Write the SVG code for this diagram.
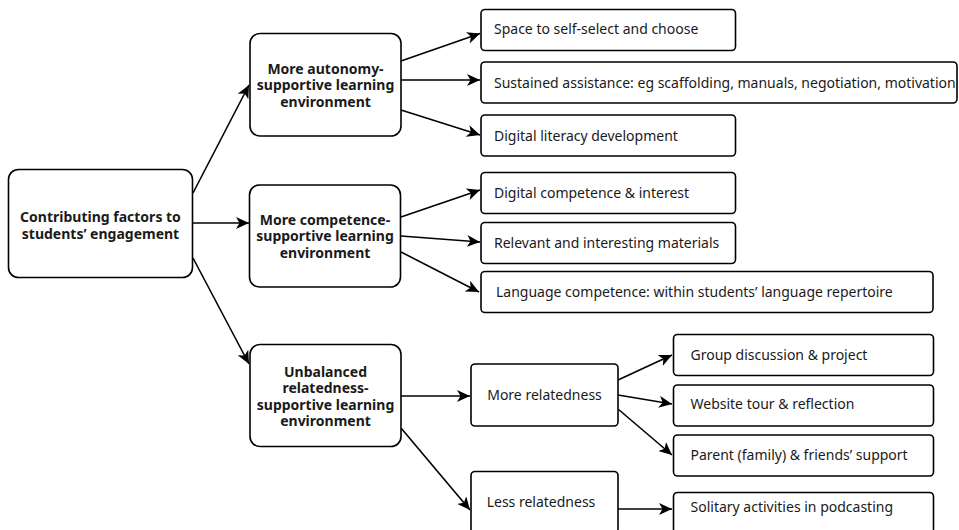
<svg xmlns="http://www.w3.org/2000/svg" width="959" height="530" viewBox="0 0 959 530">
<style>
.box{fill:#fff;stroke:#000;stroke-width:1.6}
.t{font-family:"Noto Sans","Open Sans","DejaVu Sans",sans-serif;font-size:14px;fill:#1a1a1a}
.b{font-weight:bold;text-anchor:middle}
.c{text-anchor:middle}
.ln{stroke:#000;stroke-width:1.6;fill:none;marker-end:url(#ah)}
</style>
<defs>
<marker id="ah" markerUnits="userSpaceOnUse" markerWidth="14" markerHeight="12" viewBox="0 0 14 12" refX="13" refY="6" orient="auto">
<path d="M0,0 L13,6 L0,12 L3.5,6 z" fill="#000"/>
</marker>
</defs>
<g id="connectors">
<line class="ln" x1="193" y1="193" x2="249" y2="85"/>
<line class="ln" x1="193" y1="223" x2="249" y2="223"/>
<line class="ln" x1="193" y1="258" x2="249" y2="364"/>
<line class="ln" x1="401" y1="61" x2="480" y2="33.5"/>
<line class="ln" x1="401" y1="80" x2="480" y2="80"/>
<line class="ln" x1="401" y1="110" x2="480" y2="135"/>
<line class="ln" x1="401" y1="217" x2="480" y2="190"/>
<line class="ln" x1="401" y1="236" x2="480" y2="242"/>
<line class="ln" x1="401" y1="252" x2="479" y2="292"/>
<line class="ln" x1="401" y1="396" x2="470" y2="396"/>
<line class="ln" x1="401" y1="428" x2="470" y2="510"/>
<line class="ln" x1="618" y1="380" x2="672" y2="355"/>
<line class="ln" x1="618" y1="395" x2="672" y2="404"/>
<line class="ln" x1="618" y1="409" x2="672" y2="455"/>
<line class="ln" x1="618" y1="509" x2="672" y2="509"/>
</g>
<g id="root">
<rect class="box" x="8.5" y="169.5" width="184" height="108" rx="10"/>
<text class="t b" x="100.5" y="222"><tspan x="100.5" y="222">Contributing factors to</tspan><tspan x="100.5" y="239">students’ engagement</tspan></text>
</g>
<g id="autonomy">
<rect class="box" x="250" y="33.5" width="151" height="102.5" rx="10"/>
<text class="t b" x="325.5" y="73.5"><tspan x="325.5" y="73.5">More autonomy-</tspan><tspan x="325.5" y="90">supportive learning</tspan><tspan x="325.5" y="106.5">environment</tspan></text>
</g>
<g id="competence">
<rect class="box" x="249.5" y="185" width="151" height="102" rx="10"/>
<text class="t b" x="325" y="224.5"><tspan x="325" y="224.5">More competence-</tspan><tspan x="325" y="241">supportive learning</tspan><tspan x="325" y="257.5">environment</tspan></text>
</g>
<g id="unbalanced">
<rect class="box" x="250" y="344.5" width="151" height="102" rx="10"/>
<text class="t b" x="325.5" y="376.5"><tspan x="325.5" y="376.5">Unbalanced</tspan><tspan x="325.5" y="393">relatedness-</tspan><tspan x="325.5" y="409.5">supportive learning</tspan><tspan x="325.5" y="426">environment</tspan></text>
</g>
<g id="space">
<rect class="box" x="481" y="9.5" width="254.5" height="41" rx="4"/>
<text class="t" x="494" y="34">Space to self-select and choose</text>
</g>
<g id="sustained">
<rect class="box" x="481" y="62" width="476" height="41" rx="4"/>
<text class="t" x="494" y="87.5">Sustained assistance: eg scaffolding, manuals, negotiation, motivation</text>
</g>
<g id="literacy">
<rect class="box" x="481" y="115" width="254.5" height="41" rx="4"/>
<text class="t" x="494" y="141">Digital literacy development</text>
</g>
<g id="digital-competence">
<rect class="box" x="481" y="172.5" width="254.5" height="41" rx="4"/>
<text class="t" x="494" y="198">Digital competence &amp; interest</text>
</g>
<g id="relevant">
<rect class="box" x="481" y="222.5" width="254.5" height="41" rx="4"/>
<text class="t" x="494" y="248">Relevant and interesting materials</text>
</g>
<g id="language">
<rect class="box" x="481" y="271.5" width="452" height="41" rx="4"/>
<text class="t" x="496" y="297">Language competence: within students’ language repertoire</text>
</g>
<g id="more-relatedness">
<rect class="box" x="471" y="364" width="147" height="62" rx="4"/>
<text class="t c" x="544.5" y="400">More relatedness</text>
</g>
<g id="less-relatedness">
<rect class="box" x="471" y="471.5" width="147" height="62" rx="4"/>
<text class="t c" x="541" y="507">Less relatedness</text>
</g>
<g id="group">
<rect class="box" x="673.5" y="334.5" width="260" height="41" rx="4"/>
<text class="t" x="690.5" y="360">Group discussion &amp; project</text>
</g>
<g id="website">
<rect class="box" x="673.5" y="385" width="260" height="41" rx="4"/>
<text class="t" x="690.5" y="409">Website tour &amp; reflection</text>
</g>
<g id="parent">
<rect class="box" x="673.5" y="435" width="260" height="41" rx="4"/>
<text class="t" x="690.5" y="460">Parent (family) &amp; friends’ support</text>
</g>
<g id="solitary">
<rect class="box" x="673.5" y="492.5" width="260" height="41" rx="4"/>
<text class="t" x="690.5" y="512">Solitary activities in podcasting</text>
</g>
</svg>
